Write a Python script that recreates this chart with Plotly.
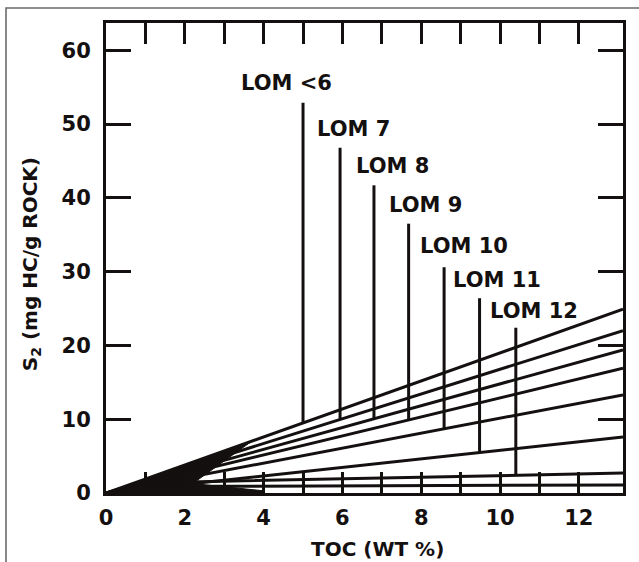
import plotly.graph_objects as go

# ---------------- data ----------------
toc_max = 13.12          # right edge of the TOC axis (wt %)
s2_max = 63.7            # top edge of the S2 axis

x_tick_vals = [0, 2, 4, 6, 8, 10, 12]
x_tick_text = ["0", "2", "4", "6", "8", "10", "12"]
x_minor_vals = [1, 3, 5, 7, 9, 11]
y_tick_vals = [0, 10, 20, 30, 40, 50, 60]
y_tick_text = ["0", "10", "20", "30", "40", "50", "60"]

lom_labels = ["LOM <6", "LOM 7", "LOM 8", "LOM 9", "LOM 10", "LOM 11", "LOM 12"]
# line nodes: TOC where lines leave the dark wedge, and right edge
node_toc = [0.0, 2.1, toc_max]
lom_s2_wedge = [3.99, 3.53, 3.11, 2.71, 2.12, 1.22, 1.5]
lom_s2_right = [24.9, 22.0, 19.4, 16.9, 13.3, 7.6, 2.7]
# extra low line under LOM 12
base_s2_wedge = 0.9
base_s2_right = 1.1

# vertical LOM markers
lom_toc = [5.0, 5.94, 6.8, 7.68, 8.58, 9.48, 10.4]
lom_top = [52.9, 46.8, 41.7, 36.5, 30.6, 26.4, 22.4]

# label anchors (left edge of text)
label_toc = [3.38, 5.30, 6.29, 7.13, 7.92, 8.76, 9.70]
label_s2 = [55.6, 49.3, 44.3, 39.0, 33.5, 28.9, 24.6]

wedge_end_toc = 3.7      # dark merged-ink wedge at the origin
wedge_notch_toc = 2.2

INK = "#141010"
FONT = "DejaVu Sans"


def interp(x, xs, ys):
    for i in range(len(xs) - 1):
        if xs[i] <= x <= xs[i + 1]:
            t = (x - xs[i]) / (xs[i + 1] - xs[i])
            return ys[i] + t * (ys[i + 1] - ys[i])
    return ys[-1]


fig = go.Figure()

# dark wedge where the lines merge at the origin
lineA = [0.0, lom_s2_wedge[0], lom_s2_right[0]]
lineF = [0.0, lom_s2_wedge[5], lom_s2_right[5]]
wx = [0, wedge_end_toc, wedge_notch_toc, wedge_end_toc + 0.3, wedge_end_toc + 0.3, 0]
wy = [0, interp(wedge_end_toc, node_toc, lineA),
      interp(wedge_notch_toc, node_toc, lineF),
      0.3, 0, 0]
fig.add_trace(go.Scatter(x=wx, y=wy, mode="lines", fill="toself",
                         fillcolor=INK, line=dict(color=INK, width=1),
                         hoverinfo="skip", showlegend=False))

# LOM lines
for i in range(len(lom_labels)):
    ys = [0.0, lom_s2_wedge[i], lom_s2_right[i]]
    fig.add_trace(go.Scatter(x=node_toc, y=ys, mode="lines",
                             line=dict(color=INK, width=3),
                             hoverinfo="skip", showlegend=False))
fig.add_trace(go.Scatter(x=node_toc, y=[0.0, base_s2_wedge, base_s2_right],
                         mode="lines", line=dict(color=INK, width=3),
                         hoverinfo="skip", showlegend=False))

# vertical markers
for i in range(len(lom_labels)):
    ys = [0.0, lom_s2_wedge[i], lom_s2_right[i]]
    bottom = interp(lom_toc[i], node_toc, ys)
    fig.add_trace(go.Scatter(x=[lom_toc[i], lom_toc[i]], y=[bottom, lom_top[i]],
                             mode="lines", line=dict(color=INK, width=3),
                             hoverinfo="skip", showlegend=False))

# labels
for i, lab in enumerate(lom_labels):
    fig.add_annotation(x=label_toc[i], y=label_s2[i], text=lab, showarrow=False,
                       xanchor="left", yanchor="middle",
                       font=dict(family=FONT, size=21, color=INK, weight="bold"))

# axis titles
fig.add_annotation(xref="paper", yref="paper", x=0.526, y=-0.119,
                   text="TOC (WT %)", showarrow=False,
                   xanchor="center", yanchor="middle",
                   font=dict(family=FONT, size=20, color=INK, weight="bold"))
fig.add_annotation(xref="paper", yref="paper", x=-0.145, y=0.487,
                   text="S<sub>2</sub> (mg HC/g ROCK)", showarrow=False,
                   textangle=-90, xanchor="center", yanchor="middle",
                   font=dict(family=FONT, size=20, color=INK, weight="bold"))

# outer frame of the scanned figure
fig.add_shape(type="rect", xref="paper", yref="paper",
              x0=-0.1934, x1=1.3, y0=-0.3, y1=1.0319,
              line=dict(color="#6a6a6a", width=1.6), layer="below")

fig.update_xaxes(range=[0, toc_max], tickvals=x_tick_vals, ticktext=x_tick_text,
                 ticks="inside", ticklen=21, tickwidth=3, tickcolor=INK,
                 minor=dict(tickvals=x_minor_vals, ticks="inside", ticklen=21,
                            tickwidth=3, tickcolor=INK, showgrid=False),
                 showline=True, linewidth=3, linecolor=INK, mirror="ticks",
                 showgrid=False, zeroline=False, ticklabelstandoff=4,
                 tickfont=dict(family=FONT, size=21, color=INK, weight="bold"))
fig.update_yaxes(range=[0, s2_max], tickvals=y_tick_vals, ticktext=y_tick_text,
                 ticks="inside", ticklen=25, tickwidth=3, tickcolor=INK,
                 showline=True, linewidth=3, linecolor=INK, mirror="ticks",
                 showgrid=False, zeroline=False, ticklabelstandoff=8,
                 tickfont=dict(family=FONT, size=21, color=INK, weight="bold"))

fig.update_layout(width=639, height=562,
                  margin=dict(l=106, r=16, t=23, b=69),
                  paper_bgcolor="white", plot_bgcolor="white",
                  showlegend=False)

fig.write_html("out.html")
